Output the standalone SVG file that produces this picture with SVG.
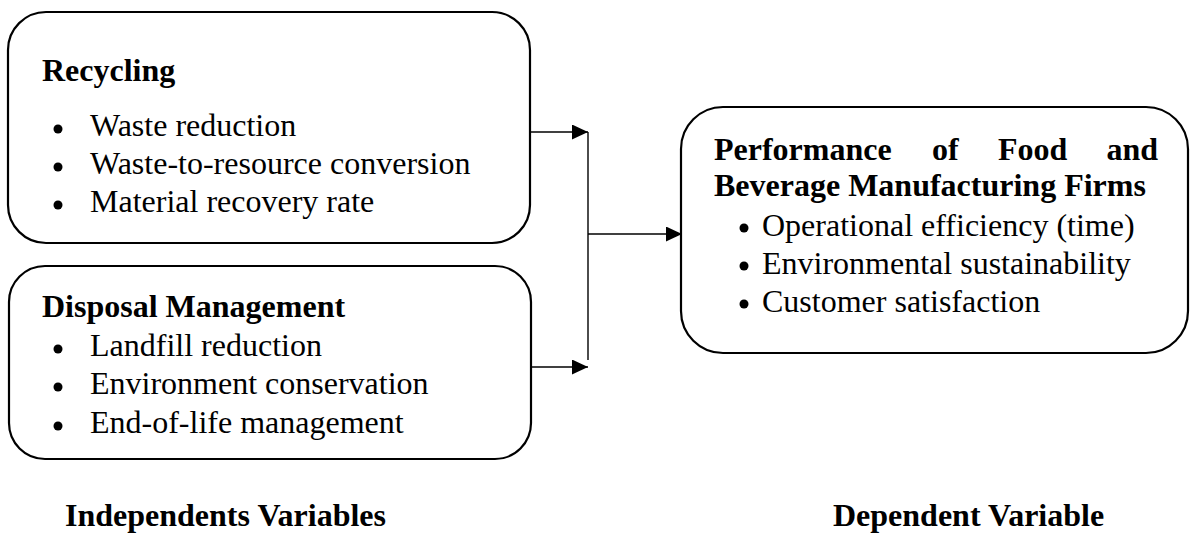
<svg xmlns="http://www.w3.org/2000/svg" width="1191" height="534" viewBox="0 0 1191 534">
<style>
.box{fill:#fff;stroke:#000;stroke-width:2.2}
.t{font-family:"Liberation Serif","Times New Roman",serif;font-size:32px;fill:#000}
.b{font-weight:bold}
.con{stroke:#000;stroke-width:1.4;fill:none}
.dot{fill:#000}
</style>
<defs>
<marker id="ah" markerWidth="16" markerHeight="15" refX="16" refY="7.5" orient="auto" markerUnits="userSpaceOnUse">
<path d="M0,0 L16,7.5 L0,15 Z" fill="#000"/>
</marker>
</defs>
<rect width="1191" height="534" fill="#fff"/>
<g id="recycling">
<rect class="box" x="8" y="12" width="522" height="231" rx="38" ry="38"/>
<text class="t b" x="42" y="81">Recycling</text>
<circle class="dot" cx="58" cy="129" r="4.5"/>
<text class="t" x="90" y="136">Waste reduction</text>
<circle class="dot" cx="58" cy="167" r="4.5"/>
<text class="t" x="90" y="174">Waste-to-resource conversion</text>
<circle class="dot" cx="58" cy="205" r="4.5"/>
<text class="t" x="90" y="212">Material recovery rate</text>
</g>
<g id="disposal">
<rect class="box" x="9" y="266" width="522" height="193" rx="36" ry="36"/>
<text class="t b" x="42" y="317">Disposal Management</text>
<circle class="dot" cx="58" cy="349" r="4.5"/>
<text class="t" x="90" y="356">Landfill reduction</text>
<circle class="dot" cx="58" cy="387" r="4.5"/>
<text class="t" x="90" y="394">Environment conservation</text>
<circle class="dot" cx="58" cy="426" r="4.5"/>
<text class="t" x="90" y="433">End-of-life management</text>
</g>
<g id="performance">
<rect class="box" x="681" y="107" width="507" height="246" rx="42" ry="42"/>
<text class="t b" x="714" y="160">Performance</text>
<text class="t b" x="932" y="160">of</text>
<text class="t b" x="998" y="160">Food</text>
<text class="t b" x="1158" y="160" text-anchor="end">and</text>
<text class="t b" x="714" y="196">Beverage Manufacturing Firms</text>
<circle class="dot" cx="744" cy="228" r="4.5"/>
<text class="t" x="762" y="236">Operational efficiency (time)</text>
<circle class="dot" cx="744" cy="266" r="4.5"/>
<text class="t" x="762" y="274">Environmental sustainability</text>
<circle class="dot" cx="744" cy="304" r="4.5"/>
<text class="t" x="762" y="312">Customer satisfaction</text>
</g>
<g id="labels">
<text class="t b" x="65" y="526">Independents Variables</text>
<text class="t b" x="833" y="526">Dependent Variable</text>
</g>
<g id="connectors">
<line class="con" x1="531" y1="132" x2="588" y2="132" marker-end="url(#ah)"/>
<line class="con" x1="532" y1="367" x2="588" y2="367" marker-end="url(#ah)"/>
<line class="con" x1="588" y1="132" x2="588" y2="360"/>
<line class="con" x1="588" y1="234" x2="682" y2="234" marker-end="url(#ah)"/>
</g>
</svg>
